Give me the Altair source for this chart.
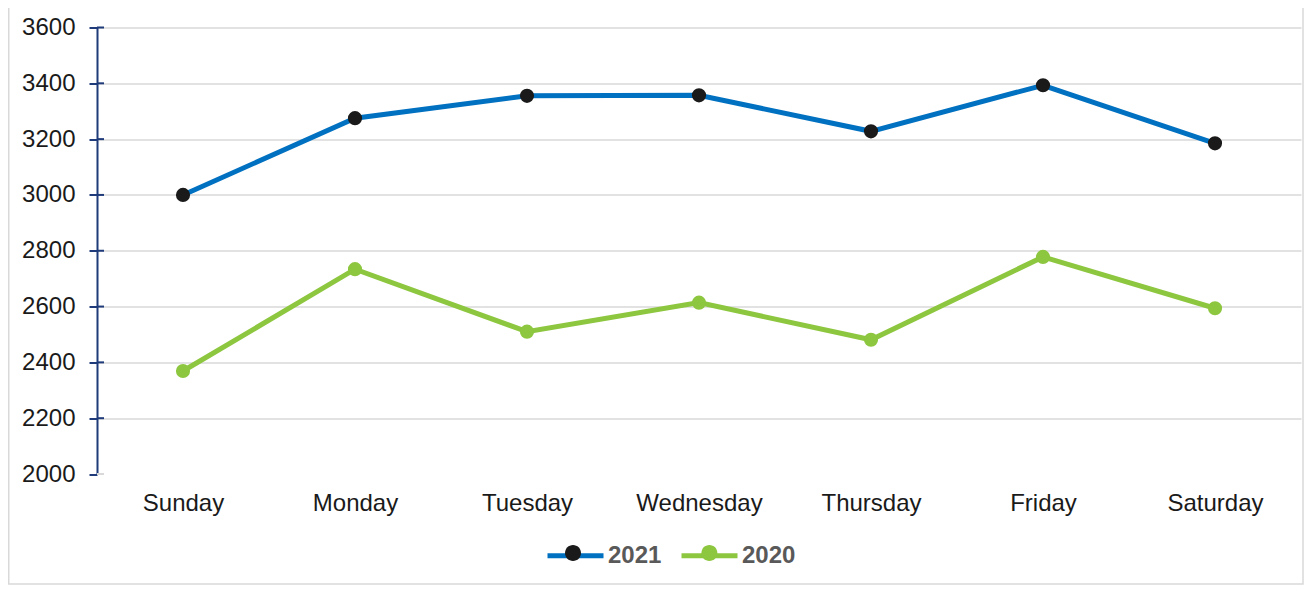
import altair as alt
import pandas as pd

DAYS = ["Sunday", "Monday", "Tuesday", "Wednesday", "Thursday", "Friday", "Saturday"]
SERIES = ["2021", "2020"]
V2021 = [3000, 3275, 3355, 3357, 3228, 3393, 3185]
V2020 = [2369, 2734, 2510, 2614, 2481, 2778, 2594]
Y_TICKS = [2000, 2200, 2400, 2600, 2800, 3000, 3200, 3400, 3600]
LINE_COLORS = ["#0070C0", "#8DC63F"]
DOT_COLORS = ["#1A1A1A", "#8DC63F"]

# the dot legend uses keys with a trailing space so that Vega-Lite does not merge it
# with the line legend (the two are overlaid to form "line + dot" symbols)
DOT_KEYS = [s + " " for s in SERIES]

rows = []
for s, k, vals in zip(SERIES, DOT_KEYS, [V2021, V2020]):
    for d, v in zip(DAYS, vals):
        rows.append({"day": d, "series": s, "year": k, "value": v})
df = pd.DataFrame(rows)
tick_df = pd.DataFrame({"value": Y_TICKS})

FONT = "Liberation Sans"
NAVY = "#1F3B7A"
GRID = "#D9D9D9"
FS = 24

yscale = alt.Scale(domain=[2000, 3600], nice=False, zero=False)

x = alt.X(
    "day:N", sort=DAYS, scale=alt.Scale(type="point", padding=0.5),
    axis=alt.Axis(title=None, labelAngle=0, domain=False, ticks=False, tickSize=0,
                  labelFontSize=FS, labelColor="#1A1A1A", labelPadding=17,
                  labelFont=FONT, grid=False),
)
y = alt.Y(
    "value:Q", scale=yscale,
    axis=alt.Axis(title=None, values=Y_TICKS, format="d", domainColor=NAVY, domainWidth=2,
                  tickColor=NAVY, tickWidth=2, tickSize=8, labelPadding=14,
                  labelFontSize=FS, labelColor="#1A1A1A", labelFont=FONT,
                  grid=True, gridColor=GRID, gridWidth=1.5,
                  gridOpacity={"condition": {"test": "datum.value == 2000", "value": 0}, "value": 1}),
)

LEG_X = 448
LEG_Y = 497.5
SYM = 3136
LABEL_W = 4 * 0.556 * FS  # width of a four-digit label
common_leg = dict(title=None, orient="none", legendX=LEG_X, legendY=LEG_Y,
                  direction="horizontal", symbolSize=SYM, labelFontSize=FS,
                  labelFont=FONT, labelColor="#595959", labelFontWeight="bold",
                  labelOffset=2, padding=0)

lines = alt.Chart(df).mark_line(strokeWidth=5).encode(
    x=x, y=y,
    color=alt.Color("series:N", scale=alt.Scale(domain=SERIES, range=LINE_COLORS),
                    legend=alt.Legend(symbolType="stroke", symbolStrokeWidth=5,
                                      columnPadding=9, **common_leg)),
)

r = 8 / 28
circle_path = f"M{-r},0A{r},{r},0,1,0,{r},0A{r},{r},0,1,0,{-r},0Z"
points = alt.Chart(df).mark_circle(size=200, opacity=1).encode(
    x=x, y=y,
    fill=alt.Fill("year:N", scale=alt.Scale(domain=DOT_KEYS, range=DOT_COLORS),
                  legend=alt.Legend(symbolType=circle_path, symbolStrokeWidth=0,
                                    labelExpr="''", columnPadding=25 + LABEL_W,
                                    **common_leg)),
)

ticks = alt.Chart(tick_df).mark_rule(strokeWidth=2).encode(
    y=y, x=alt.value(0), x2=alt.value(7),
    color=alt.condition(alt.datum.value == 2000, alt.value(GRID), alt.value(NAVY)),
)

border = alt.Chart(pd.DataFrame({"a": [0]})).mark_rect(filled=False, stroke=GRID, strokeWidth=1.5).encode(
    x=alt.value(-88.25), x2=alt.value(1206), y=alt.value(-30), y2=alt.value(556.5)
)

chart = alt.layer(border, ticks, lines, points).properties(
    width=1204, height=446.5,
    padding={"left": 89, "top": 19.5, "right": 3, "bottom": 111},
    autosize="none",
).configure_view(stroke=None)

chart.save("out.html", embed_options={"renderer": "svg", "actions": False})
